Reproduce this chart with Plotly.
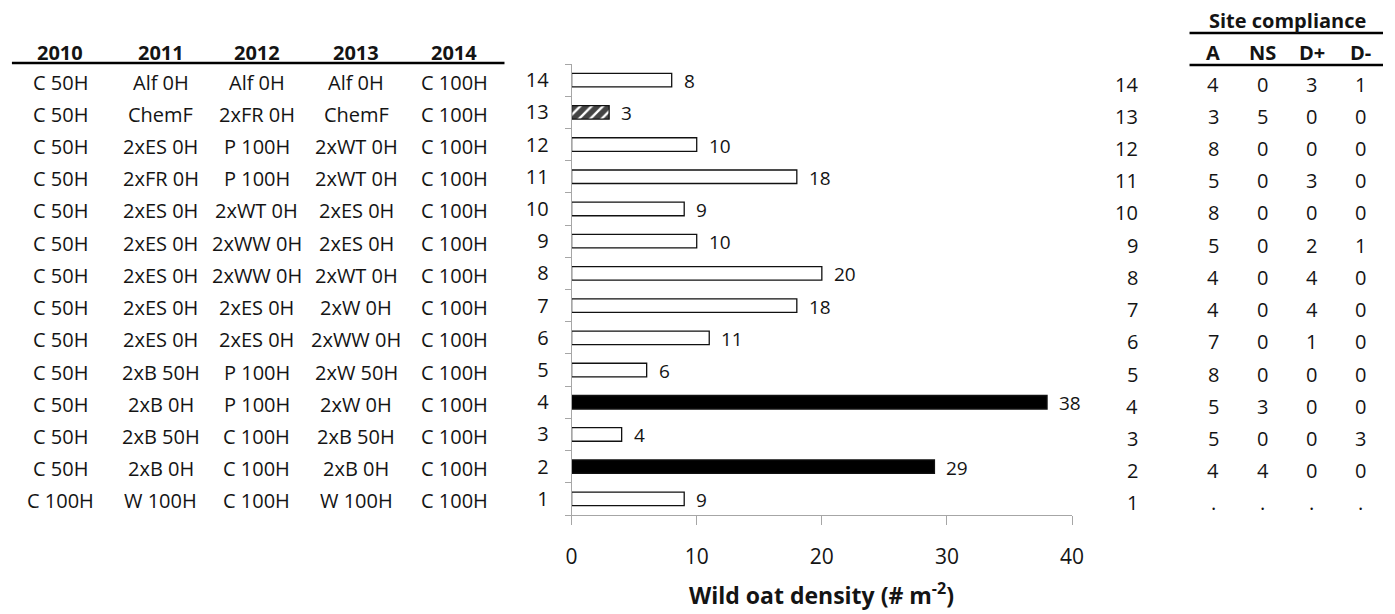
import plotly.graph_objects as go

# Treatment number (bottom to top) and wild oat density per treatment
treatments = list(range(1, 15))
density = [9, 29, 4, 38, 6, 11, 18, 20, 10, 9, 18, 10, 3, 8]
bar_style = ["open", "solid", "open", "solid", "open", "open", "open",
             "open", "open", "open", "open", "open", "hatched", "open"]

# Crop sequence per year, rows ordered from treatment 1 up to 14
years = ["2010", "2011", "2012", "2013", "2014"]
rotation = [
    ["C 100H", "W 100H", "C 100H", "W 100H", "C 100H"],
    ["C 50H", "2xB 0H", "C 100H", "2xB 0H", "C 100H"],
    ["C 50H", "2xB 50H", "C 100H", "2xB 50H", "C 100H"],
    ["C 50H", "2xB 0H", "P 100H", "2xW 0H", "C 100H"],
    ["C 50H", "2xB 50H", "P 100H", "2xW 50H", "C 100H"],
    ["C 50H", "2xES 0H", "2xES 0H", "2xWW 0H", "C 100H"],
    ["C 50H", "2xES 0H", "2xES 0H", "2xW 0H", "C 100H"],
    ["C 50H", "2xES 0H", "2xWW 0H", "2xWT 0H", "C 100H"],
    ["C 50H", "2xES 0H", "2xWW 0H", "2xES 0H", "C 100H"],
    ["C 50H", "2xES 0H", "2xWT 0H", "2xES 0H", "C 100H"],
    ["C 50H", "2xFR 0H", "P 100H", "2xWT 0H", "C 100H"],
    ["C 50H", "2xES 0H", "P 100H", "2xWT 0H", "C 100H"],
    ["C 50H", "ChemF", "2xFR 0H", "ChemF", "C 100H"],
    ["C 50H", "Alf 0H", "Alf 0H", "Alf 0H", "C 100H"],
]

# Site compliance counts per treatment (A, NS, D+, D-)
compliance_cols = ["A", "NS", "D+", "D-"]
compliance = [
    [".", ".", ".", "."],
    [4, 4, 0, 0],
    [5, 0, 0, 3],
    [5, 3, 0, 0],
    [8, 0, 0, 0],
    [7, 0, 1, 0],
    [4, 0, 4, 0],
    [4, 0, 4, 0],
    [5, 0, 2, 1],
    [8, 0, 0, 0],
    [5, 0, 3, 0],
    [8, 0, 0, 0],
    [3, 5, 0, 0],
    [4, 0, 3, 1],
]

x_ticks = [0, 10, 20, 30, 40]

W, H = 1395, 614
FONT = "Open Sans"
INK = "#141414"
AXIS = "#a6a6a6"


def px(x):
    return x / W


def py(y):
    return 1 - y / H


fill = {"open": "white", "solid": "black", "hatched": "white"}
shape = {"open": "", "solid": "", "hatched": "/"}

fig = go.Figure()
fig.add_trace(go.Bar(
    x=density,
    y=treatments,
    orientation="h",
    width=0.42,
    marker=dict(
        color=[fill[s] for s in bar_style],
        line=dict(color="#111111", width=1.3),
        pattern=dict(shape=[shape[s] for s in bar_style],
                     fgcolor="black", bgcolor="white", fgopacity=1,
                     size=8, solidity=0.7),
    ),
    hoverinfo="skip",
    showlegend=False,
))

annotations = []

# Value labels beside each bar
for t, v in zip(treatments, density):
    annotations.append(dict(
        x=v, y=t, xref="x", yref="y", text=str(v), showarrow=False,
        xanchor="left", xshift=10, yshift=-1,
        font=dict(family=FONT, size=19, color=INK)))

# Rotation table (left)
col_x = [55, 157, 254, 355, 454]
for j, yr in enumerate(years):
    annotations.append(dict(
        x=px(col_x[j]), y=py(52), xref="paper", yref="paper", text=f"<b>{yr}</b>",
        showarrow=False, xanchor="center", yanchor="middle",
        font=dict(family=FONT, size=20, color=INK)))
for i, row in enumerate(rotation):
    for j, cell in enumerate(row):
        annotations.append(dict(
            x=px(col_x[j]), y=treatments[i], xref="paper", yref="y", text=cell,
            showarrow=False, xanchor="center", yanchor="middle", yshift=-2,
            font=dict(family=FONT, size=20, color=INK)))

# Site compliance table (right)
comp_x = [1223, 1273, 1323, 1372]
annotations.append(dict(
    x=px(1298), y=py(20), xref="paper", yref="paper", text="<b>Site compliance</b>",
    showarrow=False, xanchor="center", yanchor="middle",
    font=dict(family=FONT, size=20, color=INK)))
for j, c in enumerate(compliance_cols):
    annotations.append(dict(
        x=px(comp_x[j]), y=py(52), xref="paper", yref="paper", text=f"<b>{c}</b>",
        showarrow=False, xanchor="center", yanchor="middle",
        font=dict(family=FONT, size=20, color=INK)))
for i, row in enumerate(compliance):
    annotations.append(dict(
        x=px(1149), y=treatments[i], xref="paper", yref="y", text=str(treatments[i]),
        showarrow=False, xanchor="right", yanchor="middle", yshift=-4,
        font=dict(family=FONT, size=20, color=INK)))
    for j, c in enumerate(row):
        annotations.append(dict(
            x=px(comp_x[j]), y=treatments[i], xref="paper", yref="y", text=str(c),
            showarrow=False, xanchor="center", yanchor="middle", yshift=-4,
            font=dict(family=FONT, size=20, color=INK)))

# Axis title
annotations.append(dict(
    x=px(826), y=py(594), xref="paper", yref="paper",
    text="<b>Wild oat density (# m<sup>-2</sup>)</b>",
    showarrow=False, xanchor="center", yanchor="middle",
    font=dict(family=FONT, size=23, color=INK)))

# Header rules
rules = [(6, 505, 63), (1199, 1395, 33), (1199, 1395, 65)]
shapes = [dict(type="line", xref="paper", yref="paper",
               x0=px(a), x1=px(b), y0=py(y), y1=py(y),
               line=dict(color="black", width=2.5)) for a, b, y in rules]

fig.update_layout(
    width=W, height=H,
    margin=dict(l=0, r=0, t=0, b=0),
    paper_bgcolor="white", plot_bgcolor="white",
    annotations=annotations,
    shapes=shapes,
    xaxis=dict(
        domain=[px(573), px(1080)],
        range=[0, 40], tickvals=x_ticks,
        showgrid=False, zeroline=False,
        showline=True, linecolor=AXIS, linewidth=1,
        ticks="outside", ticklen=9, tickcolor=AXIS,
        ticklabelstandoff=14,
        tickfont=dict(family=FONT, size=21, color=INK),
    ),
    yaxis=dict(
        domain=[py(515), py(64)],
        range=[0.5, 14.5], tickvals=treatments,
        showgrid=False, zeroline=False,
        showline=True, linecolor=AXIS, linewidth=1,
        ticks="", ticklabelstandoff=18,
        tickfont=dict(family=FONT, size=20, color=INK),
        minor=dict(tickvals=[k + 0.5 for k in range(0, 15)],
                   ticks="outside", ticklen=6, tickcolor=AXIS),
    ),
)

fig.write_html("out.html")
